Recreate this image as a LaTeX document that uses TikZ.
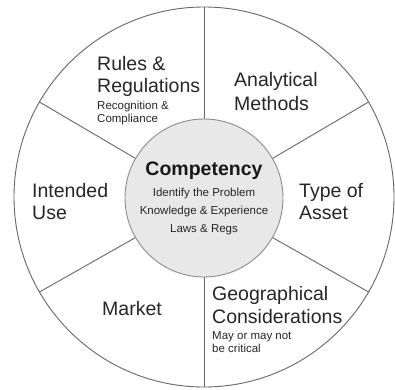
\documentclass[tikz,border=0pt]{standalone}
\usepackage{fontspec}
\setmainfont{Liberation Sans}
\begin{document}
\begin{tikzpicture}[x=1pt,y=1pt,
 big/.style={font=\fontsize{19.5}{22}\selectfont, inner sep=0, anchor=base west, text=black!85},
 small/.style={font=\fontsize{11.5}{13}\selectfont, inner sep=0, anchor=base west, text=black!85},
 mid/.style={font=\fontsize{11.5}{13}\selectfont, inner sep=0, anchor=base, text=black!85},
 head/.style={font=\fontsize{19.5}{22}\selectfont\bfseries, inner sep=0, anchor=base, text=black!90},
 spoke/.style={draw=black!60, line width=0.9pt}]
\useasboundingbox (0,0) rectangle (395,389);
\node[circle, draw=black!60, line width=0.9pt, minimum size=380pt, inner sep=0] (outer) at (204,192) {};
\node[circle, draw=black!45, fill=black!9, line width=0.9pt, minimum size=158pt, inner sep=0] (inner) at (204,191) {};
\foreach \a in {30,90,...,330} \draw[spoke] (inner.\a) -- (outer.\a);
% sectors
\node[big] (r1) at (97,319) {Rules \&};
\node[big] (r2) at (97,297) {Regulations};
\node[small] (r3) at (97,280) {Recognition \&};
\node[small] (r4) at (97,267) {Compliance};
\node[big] (a1) at (234,302) {Analytical};
\node[big] (a2) at (234,279) {Methods};
\node[big] (i1) at (32,192) {Intended};
\node[big] (i2) at (32,170) {Use};
\node[big] (t1) at (299,192) {Type of};
\node[big] (t2) at (299,170) {Asset};
\node[big] (m1) at (102,74) {Market};
\node[big] (g1) at (212,89) {Geographical};
\node[big] (g2) at (212,66) {Considerations};
\node[small] (g3) at (212,50) {May or may not};
\node[small] (g4) at (212,37) {be critical};
% centre
\node[head] (c0) at (204,214) {Competency};
\node[mid] (c1) at (204,193) {Identify the Problem};
\node[mid] (c2) at (204,175) {Knowledge \& Experience};
\node[mid] (c3) at (204,157) {Laws \& Regs};
\end{tikzpicture}
\end{document}
